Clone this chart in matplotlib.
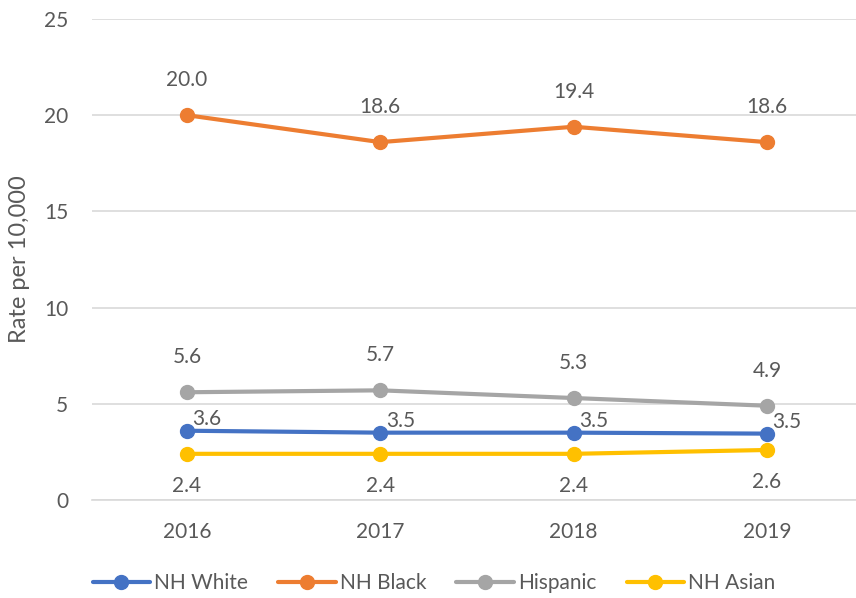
import matplotlib.pyplot as plt
import numpy as np

plt.rcParams['font.family'] = ['Lato', 'DejaVu Sans']

# data
years = ['2016', '2017', '2018', '2019']
nh_white = [3.6, 3.5, 3.5, 3.45]
nh_black = [20.0, 18.6, 19.4, 18.6]
hispanic = [5.6, 5.7, 5.3, 4.9]
nh_asian = [2.4, 2.4, 2.4, 2.6]

series = [
    ('NH White', nh_white, '#4472C4', 'right'),
    ('NH Black', nh_black, '#ED7D31', 'above'),
    ('Hispanic', hispanic, '#A5A5A5', 'above'),
    ('NH Asian', nh_asian, '#FFC000', 'below'),
]

txt = '#595959'
fs = 15

fig = plt.figure(figsize=(8.56, 5.98), dpi=100)
ax = fig.add_axes([92 / 856, (598 - 500) / 598, (856 - 92) / 856, (500 - 19) / 598])

x = np.arange(len(years))
for name, vals, col, pos in series:
    ax.plot(x, vals, color=col, lw=3, marker='o', ms=10, label=name,
            solid_capstyle='round', zorder=3)
    for xi, v in zip(x, vals):
        lab = f'{v:.1f}'
        if pos == 'above':
            ax.annotate(lab, (xi, v), xytext=(0, 18), textcoords='offset points',
                        ha='center', va='bottom', fontsize=fs, color=txt)
        elif pos == 'below':
            ax.annotate(lab, (xi, v), xytext=(0, -16), textcoords='offset points',
                        ha='center', va='top', fontsize=fs, color=txt)
        else:
            ax.annotate(lab, (xi, v), xytext=(4, 1), textcoords='offset points',
                        ha='left', va='bottom', fontsize=fs, color=txt)

ax.set_ylim(0, 25)
ax.set_yticks([0, 5, 10, 15, 20, 25])
ax.set_xlim((92 - 187) / 193.3, (856 - 187) / 193.3)
ax.set_xticks(x)
ax.set_xticklabels(years)
ax.grid(axis='y', color='#D9D9D9', lw=1.2)
ax.set_axisbelow(True)
for s in ['top', 'right', 'left']:
    ax.spines[s].set_visible(False)
ax.spines['bottom'].set_color('#D9D9D9')
ax.spines['bottom'].set_linewidth(1.2)
ax.tick_params(axis='both', length=0, labelsize=fs, labelcolor=txt)
ax.tick_params(axis='x', pad=16)
ax.tick_params(axis='y', pad=17)
ax.set_ylabel('Rate per 10,000', fontsize=17, color=txt)
ax.yaxis.set_label_coords(-62 / 764, 0.5)

leg = ax.legend(loc='center', bbox_to_anchor=((434 - 92) / 764, -83 / 481),
                ncol=4, frameon=False, fontsize=fs, handlelength=2.75,
                handletextpad=0.2, columnspacing=1.45)
for t in leg.get_texts():
    t.set_color(txt)

fig.savefig('out.png', dpi=100)
